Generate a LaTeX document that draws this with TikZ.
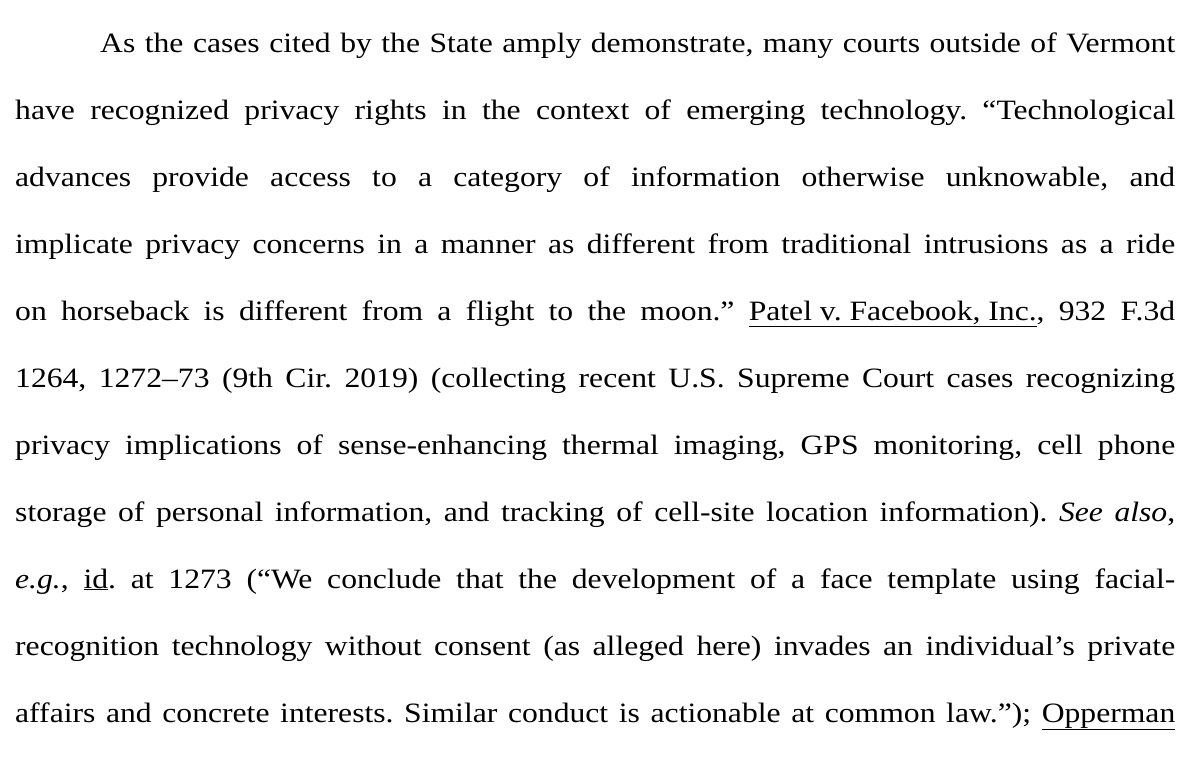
\documentclass[tikz,border=0pt]{standalone}
\usepackage{fontspec}
\setmainfont{Liberation Serif}[FakeStretch=1.13]
\begin{document}
\frenchspacing
\begin{tikzpicture}[x=1pt,y=-1pt,every node/.style={inner sep=0pt,anchor=base west,font=\fontsize{28}{30}\selectfont}]
\useasboundingbox (0,0) rectangle (1200,756);
\node (l1) at (100,52) {\makebox[1075pt][s]{As the cases cited by the State amply demonstrate, many courts outside of Vermont}};
\node (l2) at (15,119) {\makebox[1160pt][s]{have recognized privacy rights in the context of emerging technology. “Technological}};
\node (l3) at (15,186) {\makebox[1160pt][s]{advances provide access to a category of information otherwise unknowable, and}};
\node (l4) at (15,253) {\makebox[1160pt][s]{implicate privacy concerns in a manner as different from traditional intrusions as a ride}};
\node (l5) at (15,320) {\makebox[1160pt][s]{on horseback is different from a flight to the moon.” \underline{Patel v. Facebook, Inc.}, 932 F.3d}};
\node (l6) at (15,387) {\makebox[1160pt][s]{1264, 1272–73 (9th Cir. 2019) (collecting recent U.S. Supreme Court cases recognizing}};
\node (l7) at (15,454) {\makebox[1160pt][s]{privacy implications of sense-enhancing thermal imaging, GPS monitoring, cell phone}};
\node (l8) at (15,521) {\makebox[1160pt][s]{storage of personal information, and tracking of cell-site location information). \textit{See also},}};
\node (l9) at (15,588) {\makebox[1160pt][s]{\textit{e.g.}, \underline{id}. at 1273 (“We conclude that the development of a face template using facial-}};
\node (l10) at (15,655) {\makebox[1160pt][s]{recognition technology without consent (as alleged here) invades an individual’s private}};
\node (l11) at (15,722) {\makebox[1160pt][s]{affairs and concrete interests. Similar conduct is actionable at common law.”); \underline{Opperman}}};
\end{tikzpicture}
\end{document}
